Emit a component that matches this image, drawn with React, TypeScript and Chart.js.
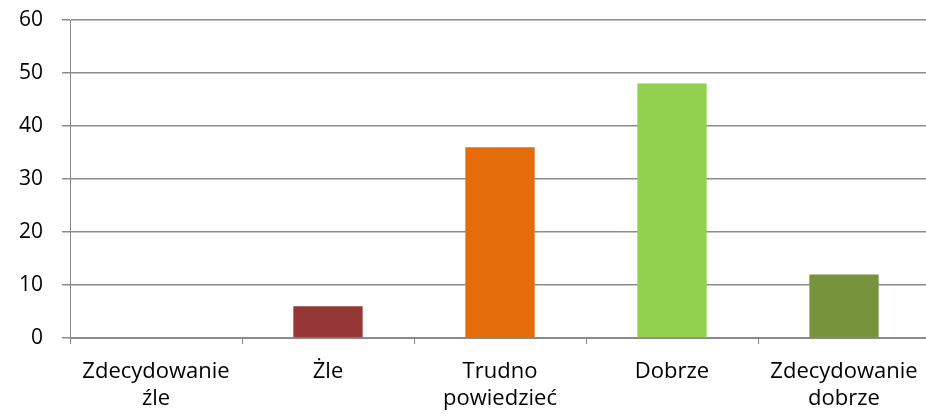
import React, { useEffect, useRef } from "react";
import { Chart, registerables } from "chart.js";

Chart.register(...registerables);

const categories: string[][] = [
  ["Zdecydowanie", "źle"],
  ["Żle"],
  ["Trudno", "powiedzieć"],
  ["Dobrze"],
  ["Zdecydowanie", "dobrze"],
];
const values: number[] = [0, 6, 36, 48, 12];
const barColors: string[] = ["#953735", "#953735", "#E46C0A", "#92D050", "#77933C"];
const yMin = 0;
const yMax = 60;
const yStep = 10;

export default function App() {
  const ref = useRef<HTMLCanvasElement | null>(null);
  useEffect(() => {
    if (!ref.current) return;
    const family = "'Open Sans', sans-serif";
    const chart = new Chart(ref.current, {
      type: "bar",
      data: {
        labels: categories,
        datasets: [
          {
            data: values,
            backgroundColor: barColors,
            borderWidth: 0,
            barPercentage: 1,
            categoryPercentage: 0.403,
          },
        ],
      },
      options: {
        animation: false,
        responsive: false,
        maintainAspectRatio: false,
        layout: { padding: { top: 20, right: 0, left: 0, bottom: 0 } },
        plugins: { legend: { display: false }, tooltip: { enabled: false } },
        scales: {
          x: {
            offset: true,
            afterFit: (s: any) => {
              s.height = 80;
              s.paddingLeft = 0;
              s.paddingRight = 0;
            },
            grid: {
              display: true,
              offset: true,
              drawOnChartArea: false,
              drawTicks: true,
              tickLength: 6,
              color: "#888888",
            },
            border: { display: true, color: "#888888", width: 1 },
            ticks: {
              color: "#000000",
              font: { family, size: 22, lineHeight: 1.23 },
              padding: 14,
              maxRotation: 0,
              autoSkip: false,
            },
          },
          y: {
            min: yMin,
            max: yMax,
            afterFit: (s: any) => {
              s.width = 70;
              s.paddingTop = 0;
              s.paddingBottom = 0;
            },
            grid: {
              color: "#8c8c8c",
              lineWidth: 1.5,
              tickLength: 8,
              drawTicks: true,
            },
            border: { display: true, color: "#888888", width: 1 },
            ticks: {
              stepSize: yStep,
              color: "#000000",
              font: { family, size: 21 },
              padding: 19,
            },
          },
        },
      },
    });
    return () => chart.destroy();
  }, []);
  return (
    <div style={{ position: "fixed", left: 0, top: 0, width: 926, height: 418, background: "#fff", overflow: "hidden" }}>
      <canvas ref={ref} width={930} height={418} style={{ width: 930, height: 418, display: "block" }} />
    </div>
  );
}
